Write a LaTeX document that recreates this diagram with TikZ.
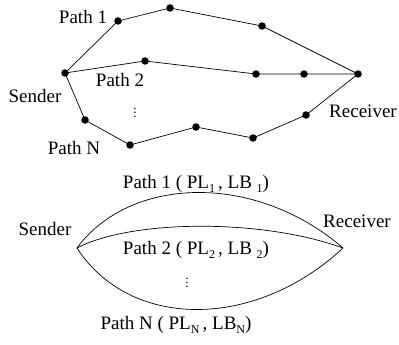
\documentclass[tikz,border=0pt]{standalone}
\usepackage{fontspec}
\setmainfont{Liberation Serif}
\newcommand{\sbx}[1]{\raisebox{-0.55ex}{\fontsize{12}{13}\selectfont #1}}
\begin{document}
\begin{tikzpicture}[x=1pt,y=-1pt,
  dot/.style={circle,fill=black,inner sep=0pt,minimum size=7.5pt},
  lbl/.style={inner sep=0pt,font=\fontsize{19}{22}\selectfont},
  vd/.style={inner sep=0pt,font=\fontsize{13}{14}\selectfont},
  edge/.style={line width=0.7pt}]
\useasboundingbox (0,0) rectangle (399,345);
% ---- top network ----
\node[dot] (s) at (65,73) {};
\node[dot] (r) at (358,74) {};
\node[dot] (a1) at (118,21) {};
\node[dot] (a2) at (170,8) {};
\node[dot] (a3) at (262,26) {};
\node[dot] (b1) at (145,61) {};
\node[dot] (b2) at (256,74) {};
\node[dot] (b3) at (304,74) {};
\node[dot] (c1) at (85,120) {};
\node[dot] (c2) at (130,145) {};
\node[dot] (c3) at (196,127) {};
\node[dot] (c4) at (253,138) {};
\node[dot] (c5) at (306,115) {};
\draw[edge] (s.center) -- (a1.center) -- (a2.center) -- (a3.center) -- (r.center);
\draw[edge] (s.center) -- (b1.center) -- (b2.center) -- (b3.center) -- (r.center);
\draw[edge] (s.center) -- (c1.center) -- (c2.center) -- (c3.center) -- (c4.center) -- (c5.center) -- (r.center);
\node[lbl] (p1) at (83,17) {Path 1};
\node[lbl] (p2) at (120,80) {Path 2};
\node[lbl] (snd) at (35,96) {Sender};
\node[vd] (vdt) at (135,110) {$\vdots$};
\node[lbl] (pn) at (74,148) {Path N};
\node[lbl] (rcv) at (363,111) {Receiver};
% ---- bottom abstraction ----
\coordinate (S) at (77,248);
\coordinate (R) at (343,248);
\draw[edge] (S) .. controls (130,176) and (255,172) .. (R);
\draw[edge] (S) .. controls (130,220) and (260,218) .. (R);
\draw[edge] (S) .. controls (130,330) and (255,330) .. (R);
\node[lbl] (q1) at (196,184) {Path 1 ( PL\sbx{1}\,, LB \sbx{1})};
\node[lbl] (q2) at (196,250) {Path 2 ( PL\sbx{2}\,, LB \sbx{2})};
\node[vd] (qv) at (187,280) {$\vdots$};
\node[lbl] (qn) at (176,325) {Path N ( PL\sbx{N}\,, LB\sbx{N})};
\node[lbl] (S2) at (45,229) {Sender};
\node[lbl] (R2) at (357,221) {Receiver};
\end{tikzpicture}
\end{document}
